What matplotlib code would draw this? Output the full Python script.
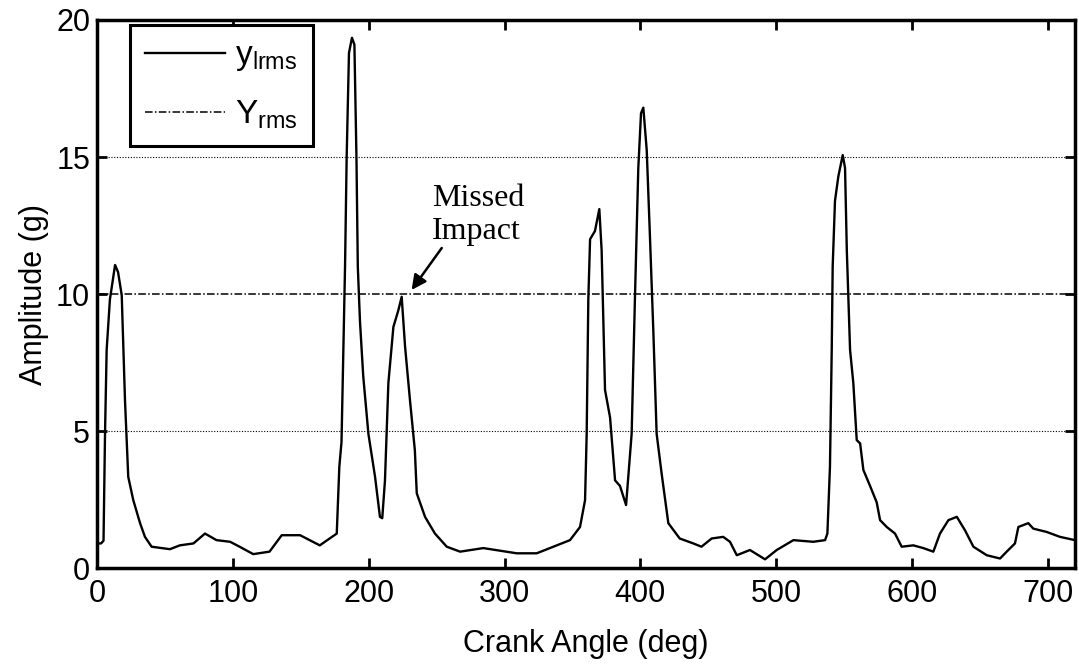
import numpy as np
import matplotlib.pyplot as plt

# crank angle (deg) and RMS amplitude (g)
angle = [0, 3, 4.8, 5.9, 7.1, 9.5, 13.3, 15.5, 18.2, 20.6, 23, 26.7, 31.7, 35.3, 40.2,
         53.7, 61, 71, 79.5, 88, 98, 105, 115, 127, 136, 149.5, 164, 176.5, 178.4,
         180, 182.6, 183.8, 185.5, 187.7, 189.5, 191, 192, 193.6, 196, 199.8, 204.7,
         208.3, 210, 212, 214.5, 218.2, 221.8, 224.3, 226.8, 230.4, 234, 235.4, 241.5,
         248.8, 257.5, 267.3, 284.4, 301.6, 309, 323.7, 338.4, 348.2, 355.6, 359.3,
         360.5, 361.7, 363, 366.6, 369.8, 371.5, 374, 377.7, 381.4, 385, 389.5, 393.6,
         396, 398.5, 400.5, 402.2, 404.7, 407, 409.6, 412, 415.7, 420.6, 429, 439, 445,
         452.5, 461, 466, 471, 480.7, 491.8, 500.4, 512.7, 527.3, 536, 537.7, 539.6,
         540.9, 541.6, 543.3, 545.8, 549, 550.7, 552, 554.4, 556.8, 559.3, 561.8,
         564.2, 569.1, 574, 576.5, 581.4, 587.5, 592.4, 601, 608.3, 615.7, 620.6,
         626.8, 633, 639, 645.2, 655, 664.8, 669.7, 675.8, 678.3, 685.6, 689.3, 699.1,
         708.9, 720]
amp = [0.9, 0.9, 1.0, 4.9, 7.96, 9.8, 11.06, 10.8, 9.96, 6.13, 3.33, 2.48, 1.64, 1.14, 0.78,
       0.69, 0.83, 0.9, 1.26, 1.02, 0.96, 0.78, 0.51, 0.6, 1.2, 1.2, 0.83, 1.26, 3.7,
       4.6, 11.0, 15.0, 18.8, 19.35, 19.1, 15.0, 11.0, 9.0, 7.0, 4.9, 3.33,
       1.87, 1.82, 3.2, 6.75, 8.8, 9.4, 9.9, 8.08, 6.13, 4.3, 2.73, 1.87,
       1.26, 0.78, 0.6, 0.73, 0.6, 0.54, 0.54, 0.83, 1.02, 1.5, 2.48,
       4.9, 9.8, 12.0, 12.3, 13.1, 11.6, 6.5, 5.5, 3.2, 3.0, 2.3, 4.9,
       9.8, 14.6, 16.6, 16.8, 15.25, 12.2, 8.6, 4.9, 3.44, 1.64, 1.08, 0.9, 0.78,
       1.08, 1.14, 0.96, 0.47, 0.66, 0.32, 0.66, 1.02, 0.96, 1.02, 1.26, 3.7,
       7.96, 11.0, 13.4, 14.3, 15.07, 14.6, 11.6, 7.96, 6.75, 4.67, 4.55,
       3.58, 3.0, 2.4, 1.75, 1.5, 1.26, 0.78, 0.83, 0.73, 0.6, 1.26,
       1.75, 1.87, 1.38, 0.78, 0.47, 0.35, 0.6, 0.9, 1.5, 1.64, 1.44, 1.32,
       1.14, 1.02]
y_rms = 10.0

xticks = [0, 100, 200, 300, 400, 500, 600, 700]
yticks = [0, 5, 10, 15, 20]


def main():
    plt.rcParams['font.family'] = 'Liberation Sans'
    plt.rcParams['mathtext.fontset'] = 'custom'
    plt.rcParams['mathtext.rm'] = 'Liberation Sans'
    plt.rcParams['mathtext.it'] = 'Liberation Sans'

    fig = plt.figure(figsize=(10.79, 6.66), dpi=100)
    ax = fig.add_axes([0.0899, 0.147, 0.9064, 0.823])

    ax.plot(angle, amp, color='black', lw=1.7, label=r'$\mathregular{y_{lrms}}$')
    ax.axhline(y_rms, color='black', lw=1.1, ls='-.', dashes=(5, 1.5, 1, 1.5),
               label=r'$\mathregular{Y_{rms}}$')

    for g in [5, 15]:
        ax.axhline(g, color='black', lw=0.8, ls=(0, (1, 1.5)), zorder=0)

    ax.set_xlim(0, 720)
    ax.set_ylim(0, 20)
    ax.set_xticks(xticks)
    ax.set_yticks(yticks)
    ax.tick_params(direction='in', length=7, width=2, top=True, right=True,
                   labelsize=22)
    ax.tick_params(axis='x', pad=8)
    ax.tick_params(axis='y', pad=5)
    for s in ax.spines.values():
        s.set_linewidth(2.5)

    ax.set_xlabel('Crank Angle (deg)', fontsize=22, labelpad=14)
    ax.set_ylabel('Amplitude (g)', fontsize=22, labelpad=5)

    ax.text(246.4, 11.75, 'Missed\nImpact', ha='left', va='bottom', fontsize=23,
            family='Liberation Serif', linespacing=1.2)
    ax.annotate('', xy=(231.6, 10.15), xytext=(253.8, 11.68),
                arrowprops=dict(arrowstyle='-|>', color='black', lw=1.8,
                                mutation_scale=22, shrinkA=0, shrinkB=0))

    leg = ax.legend(loc='upper left', bbox_to_anchor=(0.034, 0.99), fontsize=24,
                    fancybox=False, framealpha=1, edgecolor='black',
                    handlelength=2.4, borderpad=0.45, labelspacing=0.75,
                    handletextpad=0.3, borderaxespad=0)
    leg.get_frame().set_linewidth(2.2)

    plt.savefig('out.png', dpi=100)
    plt.close()


if __name__ == "__main__":
    main()
